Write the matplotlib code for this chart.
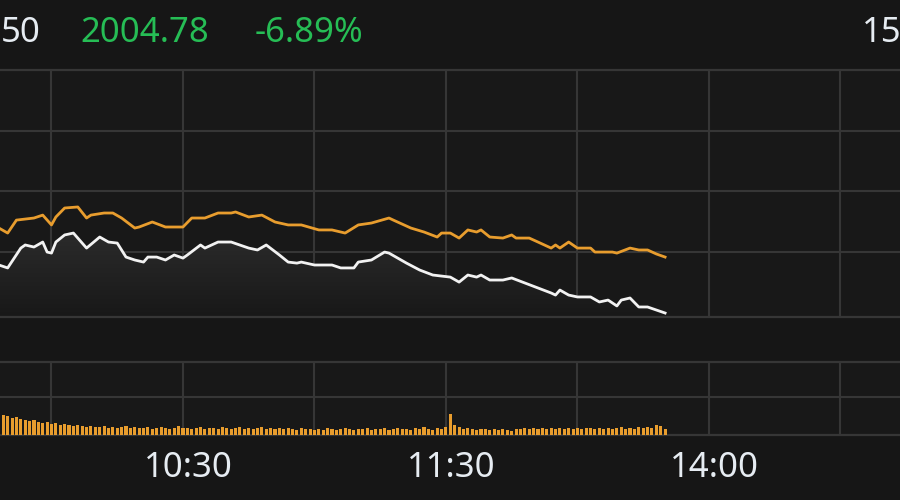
"""Intraday index chart (dark theme): price line, average line and volume bars."""

import matplotlib

matplotlib.use("Agg")
import matplotlib.pyplot as plt
import numpy as np
from matplotlib.colors import LinearSegmentedColormap

# trading minutes since 9:30 (afternoon continues after minute 120 = 11:30/13:00)
price_minutes = [
    18, 20, 23, 24, 26, 28, 29, 30, 31, 33, 35, 38, 41, 43, 45, 47, 49, 51, 52, 54,
    56, 58, 60, 61, 64, 65, 68, 71, 75, 77, 79, 82, 84, 86, 87, 90, 94, 96, 99, 100,
    103, 106, 107, 111, 114, 117, 121, 123, 125, 127, 128, 130, 133, 135, 138, 141,
    144, 145, 146, 148, 150, 153, 155, 157, 159, 160, 162, 164, 166, 170,
]
# index change vs previous close, %
price_pct = [
    -4.11, -4.28, -3.13, -2.95, -3.07, -2.78, -3.36, -3.42, -2.78, -2.37, -2.26, -3.13,
    -2.49, -2.78, -2.84, -3.65, -3.82, -3.94, -3.65, -3.65, -3.82, -3.53, -3.71, -3.53,
    -2.95, -3.13, -2.78, -2.78, -3.13, -3.24, -2.95, -3.53, -3.94, -4.00, -3.94, -4.11,
    -4.11, -4.28, -4.28, -3.94, -3.82, -3.36, -3.42, -4.00, -4.40, -4.69, -4.81, -5.10,
    -4.69, -4.81, -4.69, -4.98, -4.98, -4.86, -5.15, -5.44, -5.73, -5.85, -5.56, -5.85,
    -5.96, -5.96, -6.25, -6.14, -6.48, -6.14, -6.02, -6.54, -6.54, -6.89,
]

avg_minutes = [
    18, 20, 22, 26, 28, 30, 31, 33, 36, 38, 39, 42, 44, 46, 49, 50, 53, 56, 60, 62,
    65, 68, 71, 72, 75, 78, 81, 84, 87, 91, 94, 97, 100, 103, 107, 108, 112, 115, 118,
    119, 121, 123, 125, 127, 128, 130, 133, 135, 136, 139, 141, 144, 145, 146, 148,
    150, 153, 154, 158, 159, 162, 164, 166, 168, 170,
]
avg_pct = [
    -1.97, -2.26, -1.51, -1.39, -1.22, -1.79, -1.33, -0.81, -0.75, -1.39, -1.22, -1.10,
    -1.10, -1.39, -1.97, -1.91, -1.62, -1.91, -1.91, -1.39, -1.39, -1.10, -1.10, -1.04,
    -1.33, -1.22, -1.62, -1.79, -1.79, -2.08, -2.08, -2.26, -1.79, -1.68, -1.39, -1.51,
    -1.97, -2.20, -2.49, -2.26, -2.26, -2.55, -2.08, -2.20, -2.08, -2.49, -2.55, -2.37,
    -2.55, -2.55, -2.78, -3.13, -2.95, -3.13, -2.78, -3.13, -3.13, -3.36, -3.36, -3.42,
    -3.13, -3.24, -3.24, -3.47, -3.65,
]

volume_minutes = list(range(18, 171))
volume = [
    21, 20, 19, 17, 18, 16, 15, 14, 15, 13, 12, 13, 11, 12, 10,
    11, 10, 9, 10, 9, 8, 9, 8,
    8, 9, 7, 8, 7, 8, 9, 7, 8, 7,
    7, 8, 6, 7, 8, 7, 6, 7, 9, 7,
    7, 6, 7, 8, 6, 7, 7, 6, 8, 7,
    6, 7, 8, 6, 7, 6, 7, 8, 6, 7,
    6, 7, 6, 7, 6, 5, 7, 6, 6, 5,
    6, 5, 7, 6, 5, 6, 7, 6, 5, 6,
    6, 7, 5, 6, 6, 7, 5, 6, 7, 6,
    6, 5, 7, 6, 8, 6, 5, 7, 6, 8,
    21,
    10, 8, 6, 7, 6, 5, 6, 6, 5,
    6, 5, 6, 5, 4, 6, 6, 7, 6, 7,
    6, 7, 6, 7, 6, 7, 6, 7, 6, 7,
    6, 7, 7, 6, 7, 6, 7, 6, 7, 8,
    6, 7, 6, 8, 7, 8, 7, 10, 9, 6,
]

tick_minutes = [60, 120, 180]
tick_labels = ["10:30", "11:30", "14:00"]
grid_minutes = [30, 60, 90, 120, 150, 180, 210]

BG = "#161616"
PANEL = "#181818"
GRID = "#363636"
ORANGE = "#e89d2e"
WHITE = "#f2f2f2"
GREEN = "#26bd55"
LABEL = "#e6ecf2"
FONT = "Noto Sans"

XLIM = (18.25, 223.6)
PRICE_YLIM = (-7.12, 7.18)
PRICE_HLINES = [3.65, 0.17, -3.36]


def style_panel(ax):
    ax.set_facecolor(PANEL)
    ax.set_xlim(*XLIM)
    for side in ("left", "right"):
        ax.spines[side].set_visible(False)
    for side in ("top", "bottom"):
        ax.spines[side].set_color(GRID)
        ax.spines[side].set_linewidth(1.6)
    for m in grid_minutes:
        ax.axvline(m, color=GRID, lw=1.5, zorder=0.5)
    ax.set_xticks([])
    ax.set_yticks([])


fig = plt.figure(figsize=(9, 5), dpi=100, facecolor=BG)

# price panel: y 70..317 px
ax = fig.add_axes([0, 1 - 317 / 500, 1, 247 / 500])
style_panel(ax)
ax.set_ylim(*PRICE_YLIM)
for h in PRICE_HLINES:
    ax.axhline(h, color=GRID, lw=1.5, zorder=0.5)

# gradient under the price line
cmap = LinearSegmentedColormap.from_list("fade", [PANEL, "#2b2b2b"])
grad = np.linspace(0, 1, 256).reshape(-1, 1)
img = ax.imshow(
    grad,
    extent=[XLIM[0], XLIM[1], PRICE_YLIM[0], max(price_pct)],
    origin="lower",
    cmap=cmap,
    aspect="auto",
    zorder=1,
)
area = ax.fill_between(price_minutes, price_pct, PRICE_YLIM[0], color="none", lw=0)
img.set_clip_path(area.get_paths()[0], transform=ax.transData)
ax.set_xlim(*XLIM)
ax.set_ylim(*PRICE_YLIM)

ax.plot(avg_minutes, avg_pct, color=ORANGE, lw=2.0, zorder=3)
ax.plot(price_minutes, price_pct, color=WHITE, lw=2.0, zorder=4)

# volume panel: y 362..435 px
axv = fig.add_axes([0, 1 - 435 / 500, 1, 73 / 500])
style_panel(axv)
axv.set_ylim(0, 73)
axv.axhline(38, color=GRID, lw=1.5, zorder=0.5)
axv.bar(volume_minutes, volume, width=0.7, color=ORANGE, zorder=3)

# time labels under the volume panel
for m, lab in zip(tick_minutes, tick_labels):
    axv.annotate(lab, xy=(m, 0), xycoords=("data", "axes fraction"),
                 xytext=(4, -24), textcoords="offset points",
                 ha="center", va="center", fontsize=25, color=LABEL,
                 family=FONT, annotation_clip=False)

# header values
fig.text(1 / 900, 1 - 33 / 500, "50", ha="left", va="center",
         fontsize=25, color=LABEL, family=FONT)
fig.text(80 / 900, 1 - 33 / 500, "2004.78", ha="left", va="center",
         fontsize=25, color=GREEN, family=FONT)
fig.text(255 / 900, 1 - 33 / 500, "-6.89%", ha="left", va="center",
         fontsize=25, color=GREEN, family=FONT)
fig.text(862 / 900, 1 - 33 / 500, "15", ha="left", va="center",
         fontsize=25, color=LABEL, family=FONT)

fig.savefig("out.png", dpi=100, facecolor=BG)
plt.close(fig)
